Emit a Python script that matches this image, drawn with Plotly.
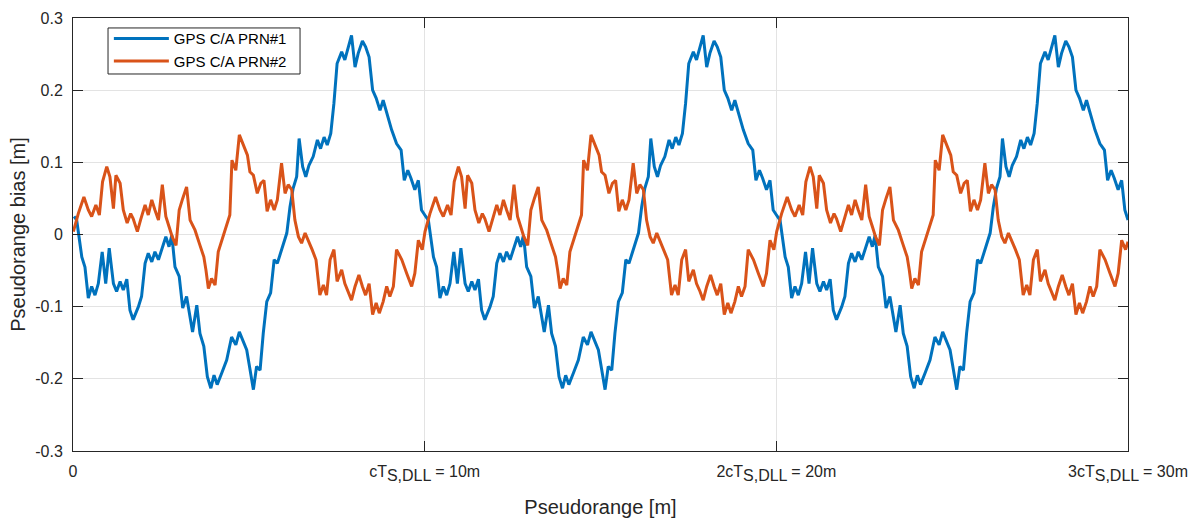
import plotly.graph_objects as go

# One period (10 m) of each curve; the chart repeats it 3 times
period_x = [0.03, 0.105, 0.25, 0.34, 0.435, 0.53, 0.625, 0.72, 0.83, 0.93, 1.03, 1.15, 1.24, 1.34, 1.43,
            1.53, 1.62, 1.71, 1.86, 1.95, 2.05, 2.14, 2.24, 2.33, 2.43, 2.54, 2.64, 2.73, 2.81, 2.90,
            3.02, 3.12, 3.23, 3.40, 3.52, 3.61, 3.72, 3.82, 3.92, 4.01, 4.10, 4.23, 4.37, 4.51, 4.63,
            4.73, 4.84, 4.94, 5.03, 5.13, 5.22, 5.32, 5.41, 5.51, 5.62, 5.72, 5.81, 5.93, 6.08, 6.17,
            6.26, 6.36, 6.43, 6.53, 6.62, 6.71, 6.83, 6.95, 7.04, 7.14, 7.23, 7.33, 7.42, 7.51, 7.64,
            7.73, 7.83, 7.92, 8.02, 8.11, 8.23, 8.32, 8.42, 8.52, 8.62, 8.73, 8.82, 8.92, 9.06, 9.20,
            9.33, 9.42, 9.52, 9.61, 9.72, 9.82, 9.91]
prn1_period = [0.025, 0.020, -0.031, -0.045, -0.088, -0.072, -0.084, -0.068, -0.024, -0.068, -0.019,
               -0.068, -0.079, -0.065, -0.077, -0.062, -0.105, -0.118, -0.100, -0.086, -0.040, -0.026,
               -0.038, -0.024, -0.035, -0.017, -0.003, -0.017, -0.001, -0.045, -0.058, -0.102, -0.086,
               -0.135, -0.098, -0.137, -0.155, -0.197, -0.213, -0.195, -0.208, -0.192, -0.174, -0.142,
               -0.153, -0.135, -0.148, -0.160, -0.186, -0.215, -0.183, -0.188, -0.137, -0.093, -0.081,
               -0.035, -0.040, -0.021, 0.002, 0.038, 0.064, 0.080, 0.133, 0.094, 0.080, 0.096, 0.108,
               0.131, 0.119, 0.135, 0.124, 0.140, 0.182, 0.237, 0.253, 0.242, 0.262, 0.276, 0.232, 0.251,
               0.268, 0.260, 0.246, 0.200, 0.189, 0.172, 0.186, 0.168, 0.145, 0.126, 0.117, 0.075, 0.089,
               0.078, 0.062, 0.075, 0.034]

period_x2 = [0.01, 0.15, 0.31, 0.435, 0.53, 0.65, 0.75, 0.84, 0.96, 1.05, 1.15, 1.22, 1.34, 1.43, 1.54,
             1.64, 1.71, 1.83, 1.92, 2.05, 2.14, 2.24, 2.33, 2.43, 2.54, 2.64, 2.73, 2.82, 2.93, 3.02,
             3.12, 3.23, 3.33, 3.47, 3.59, 3.72, 3.78, 3.85, 3.94, 4.04, 4.13, 4.26, 4.37, 4.46, 4.52,
             4.63, 4.73, 4.86, 4.96, 5.03, 5.13, 5.24, 5.34, 5.43, 5.52, 5.62, 5.72, 5.81, 5.93, 6.03,
             6.12, 6.22, 6.31, 6.41, 6.50, 6.60, 6.69, 6.80, 6.91, 7.02, 7.12, 7.21, 7.31, 7.42, 7.51,
             7.64, 7.73, 7.83, 7.92, 8.02, 8.13, 8.23, 8.32, 8.42, 8.52, 8.62, 8.71, 8.82, 8.92, 9.01,
             9.11, 9.20, 9.35, 9.49, 9.63, 9.72, 9.82, 9.93]
prn2_period = [0.004, 0.029, 0.052, 0.034, 0.025, 0.041, 0.027, 0.073, 0.094, 0.080, 0.036, 0.082, 0.071,
               0.034, 0.016, 0.029, 0.022, 0.004, 0.020, 0.041, 0.027, 0.048, 0.034, 0.020, 0.069, 0.025,
               0.011, -0.003, -0.015, 0.034, 0.050, 0.066, 0.020, 0.006, -0.012, -0.031, -0.049, -0.075,
               -0.061, -0.070, -0.024, -0.003, 0.016, 0.027, 0.103, 0.089, 0.138, 0.122, 0.110, 0.087,
               0.082, 0.057, 0.071, 0.075, 0.032, 0.048, 0.034, 0.048, 0.099, 0.057, 0.069, 0.062, 0.020,
               -0.003, -0.012, 0.002, -0.008, -0.021, -0.035, -0.084, -0.070, -0.084, -0.035, -0.021,
               -0.065, -0.049, -0.068, -0.079, -0.091, -0.072, -0.056, -0.072, -0.084, -0.068, -0.111,
               -0.095, -0.109, -0.093, -0.072, -0.086, -0.072, -0.021, -0.035, -0.054, -0.072, -0.054,
               -0.008, -0.021]

n_periods = 3
period_len = 10.0
end_x = 30.0
end_prn1 = 0.020
end_prn2 = -0.010

SUB = "<sub><span style='font-size:16px'>S,DLL</span></sub>"
x_tick_vals = [0, 10, 20, 30]
x_tick_text = ["0", "cT" + SUB + " = 10m", "2cT" + SUB + " = 20m", "3cT" + SUB + " = 30m"]
y_tick_vals = [-0.3, -0.2, -0.1, 0, 0.1, 0.2, 0.3]
y_tick_text = ["-0.3", "-0.2", "-0.1", "0", "0.1", "0.2", "0.3"]

x1, y1, x2, y2 = [], [], [], []
for k in range(n_periods):
    x1 += [v + k * period_len for v in period_x]
    y1 += prn1_period
    x2 += [v + k * period_len for v in period_x2]
    y2 += prn2_period
x1.append(end_x); y1.append(end_prn1)
x2.append(end_x); y2.append(end_prn2)

font = "Arial, 'Liberation Sans', Helvetica, sans-serif"
fig = go.Figure()
fig.add_trace(go.Scatter(x=x1, y=y1, mode="lines", name="GPS C/A PRN#1",
                         line=dict(color="#0072BD", width=3)))
fig.add_trace(go.Scatter(x=x2, y=y2, mode="lines", name="GPS C/A PRN#2",
                         line=dict(color="#D95319", width=3)))

axis_common = dict(showline=True, linecolor="#262626", linewidth=1, mirror="ticks",
                   ticks="inside", ticklen=10, tickcolor="#262626",
                   showgrid=True, gridcolor="#e3e3e3", gridwidth=1, zeroline=False,
                   automargin=False,
                   tickfont=dict(family=font, size=16, color="#262626"))

# legend frame (drawn as a paper-space rectangle so its size matches the reference)
fig.add_shape(type="rect", xref="paper", yref="paper",
              x0=0.0332, x1=0.2152, y0=0.8707, y1=0.9770,
              line=dict(color="#262626", width=1), fillcolor="white", layer="above")

fig.update_layout(
    width=1200, height=518,
    margin=dict(l=73, r=72, t=18, b=67),
    paper_bgcolor="white", plot_bgcolor="white",
    font=dict(family=font, color="#262626"),
    showlegend=True,
    legend=dict(x=0.034, y=0.990, xanchor="left", yanchor="top",
                bgcolor="rgba(0,0,0,0)", borderwidth=0,
                font=dict(family=font, size=15, color="#000000"),
                tracegroupgap=0, itemwidth=55),
    xaxis=dict(range=[0, 30], tickmode="array", tickvals=x_tick_vals, ticktext=x_tick_text,
               title=dict(text="Pseudorange [m]", font=dict(family=font, size=20, color="#262626"),
                          standoff=20),
               ticklabelstandoff=6, **axis_common),
    yaxis=dict(range=[-0.3, 0.3], tickmode="array", tickvals=y_tick_vals, ticktext=y_tick_text,
               title=dict(text="Pseudorange bias [m]", font=dict(family=font, size=20, color="#262626"),
                          standoff=4),
               ticklabelstandoff=6, **axis_common),
)

fig.write_html("out.html")
